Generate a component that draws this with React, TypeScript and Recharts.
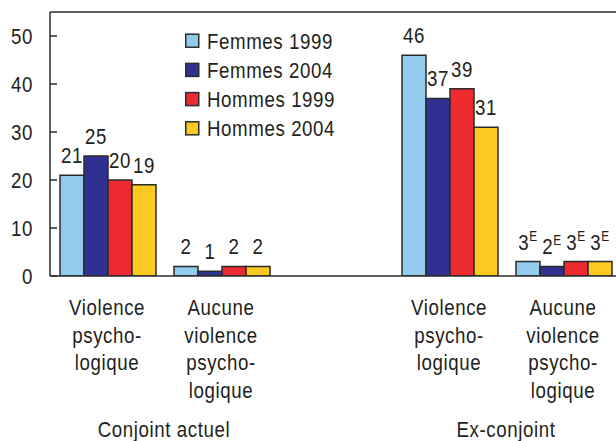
import React from 'react';
import { BarChart, Bar, XAxis, YAxis, ReferenceLine, LabelList } from 'recharts';

const categories = [
  'Violence\npsycho-\nlogique',
  'Aucune\nviolence\npsycho-\nlogique',
  '',
  'Violence\npsycho-\nlogique',
  'Aucune\nviolence\npsycho-\nlogique',
];
const groupLabels = ['Conjoint actuel', '', '', 'Ex-conjoint', ''];
const femmes1999 = [21, 2, null, 46, 3];
const femmes2004 = [25, 1, null, 37, 2];
const hommes1999 = [20, 2, null, 39, 3];
const hommes2004 = [19, 2, null, 31, 3];
const estimateFlags = [false, false, false, true, true];
const yTicks = [0, 10, 20, 30, 40, 50];
const seriesNames = ['Femmes 1999', 'Femmes 2004', 'Hommes 1999', 'Hommes 2004'];
const seriesKeys = ['f1999', 'f2004', 'h1999', 'h2004'];
const seriesColors = ['#93CBEE', '#2E3192', '#EC2A2F', '#FDCA22'];

const data = categories.map((c, i) => ({
  id: String(i),
  f1999: femmes1999[i],
  f2004: femmes2004[i],
  h1999: hommes1999[i],
  h2004: hommes2004[i],
}));

const FONT = "'Liberation Sans', Arial, sans-serif";
const TEXT = '#231F20';
const AXIS = '#2b2b2b';
const FS = 22;
const SX = 0.85;
const LS = 0.7;

const CText = ({ x, y, anchor = 'middle', size = FS, children }: any) => (
  <text
    transform={`translate(${x},${y}) scale(${SX},1)`}
    x={0}
    y={0}
    textAnchor={anchor}
    fontFamily={FONT}
    fontSize={size}
    letterSpacing={LS}
    fill={TEXT}
  >
    {children}
  </text>
);

const YTick = (props: any) => {
  const { x, y, payload } = props;
  return (
    <g>
      <line x1={x + 17} x2={x + 24} y1={y} y2={y} stroke={AXIS} strokeWidth={1.5} />
      <CText x={x} y={y + 8} anchor="end">{payload.value}</CText>
    </g>
  );
};

const XTick = (props: any) => {
  const { x, y, payload } = props;
  const idx = Number(payload.value);
  const lines = categories[idx] ? categories[idx].split('\n') : [];
  const half = payload.offset || 57;
  return (
    <g>
      {lines.map((l, k) => (
        <CText key={k} x={x} y={y + 39 + k * 27.6}>{l}</CText>
      ))}
      {groupLabels[idx] ? <CText x={x + half} y={y + 161}>{groupLabels[idx]}</CText> : null}
    </g>
  );
};

const renderValueLabel = (props: any) => {
  const { x, y, width, value, index } = props;
  if (value === null || value === undefined) return null;
  const cx = Number(x) + Number(width) / 2;
  const flag = estimateFlags[index];
  return (
    <CText x={cx} y={Number(y) - 12}>
      <tspan>{value}</tspan>
      {flag ? <tspan fontSize={14} dy={-9}>E</tspan> : null}
    </CText>
  );
};

const legendX = 185;
const legendY0 = 40.7;
const legendStep = 29.2;

export default function App() {
  return (
    <div style={{ position: 'absolute', left: 0, top: 0, width: 616, height: 441, overflow: 'hidden', background: '#fff' }}>
      <BarChart
        width={620}
        height={441}
        data={data}
        margin={{ top: 12, right: 0, left: 0, bottom: 0 }}
        barCategoryGap={10}
        barGap={0}
      >
        <YAxis
          width={50}
          domain={[0, 55]}
          ticks={yTicks}
          allowDataOverflow
          axisLine={{ stroke: AXIS, strokeWidth: 1.5 }}
          tickLine={false}
          tickSize={0}
          tickMargin={17}
          tick={<YTick />}
          interval={0}
        />
        <XAxis
          dataKey="id"
          type="category"
          height={165}
          axisLine={{ stroke: AXIS, strokeWidth: 1.5 }}
          tickLine={false}
          tickSize={0}
          tickMargin={0}
          tick={<XTick />}
          interval={0}
        />
        <ReferenceLine y={55} stroke={AXIS} strokeWidth={1.5} />
        {seriesKeys.map((k, i) => (
          <Bar key={k} dataKey={k} name={seriesNames[i]} fill={seriesColors[i]} stroke={AXIS} strokeWidth={1.5} isAnimationActive={false}>
            <LabelList dataKey={k} content={renderValueLabel} />
          </Bar>
        ))}
      </BarChart>
      <svg width={616} height={441} style={{ position: 'absolute', left: 0, top: 0, pointerEvents: 'none' }}>
        {seriesNames.map((n, i) => {
          const cy = legendY0 + i * legendStep;
          return (
            <g key={n}>
              <rect x={legendX + 0.75} y={cy - 6.5} width={13} height={13} fill={seriesColors[i]} stroke={AXIS} strokeWidth={1.5} />
              <CText x={legendX + 22} y={cy + 8} anchor="start">{n}</CText>
            </g>
          );
        })}
      </svg>
    </div>
  );
}
